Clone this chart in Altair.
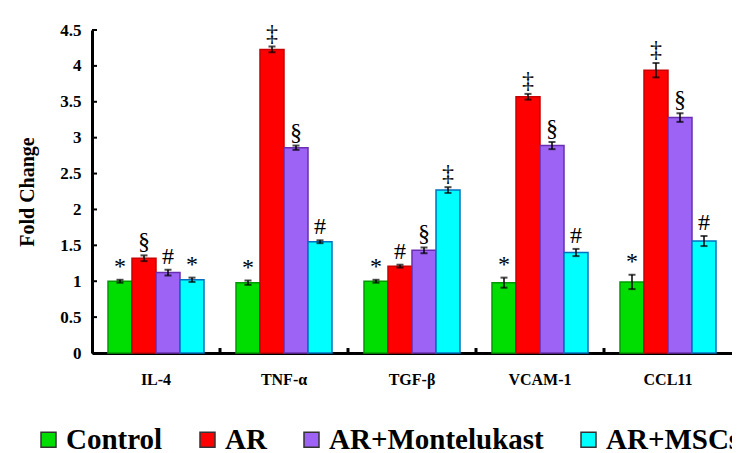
import altair as alt
import pandas as pd

categories = ["IL-4", "TNF-α", "TGF-β", "VCAM-1", "CCL11"]
groups = ["Control", "AR", "AR+Montelukast", "AR+MSCs"]
colors = ["#00dd00", "#ff0000", "#9c63f5", "#00ffff"]
strokes = ["#009a00", "#c80000", "#6a2fb0", "#0070c0"]

control = [1.00, 0.98, 1.00, 0.98, 0.99]
ar = [1.32, 4.23, 1.21, 3.57, 3.94]
montelukast = [1.12, 2.86, 1.43, 2.89, 3.28]
mscs = [1.02, 1.55, 2.27, 1.40, 1.56]

err_control = [0.02, 0.03, 0.02, 0.07, 0.10]
err_ar = [0.04, 0.04, 0.02, 0.04, 0.10]
err_mont = [0.04, 0.03, 0.04, 0.05, 0.06]
err_mscs = [0.03, 0.02, 0.04, 0.05, 0.07]

sym_control = ["*", "*", "*", "*", "*"]
sym_ar = ["§", "‡", "#", "‡", "‡"]
sym_mont = ["#", "§", "§", "§", "§"]
sym_mscs = ["*", "#", "‡", "#", "#"]

y_ticks = [0, 0.5, 1, 1.5, 2, 2.5, 3, 3.5, 4, 4.5]

rows = []
for g, sc, vals, errs, syms in zip(groups, strokes,
                                   [control, ar, montelukast, mscs],
                                   [err_control, err_ar, err_mont, err_mscs],
                                   [sym_control, sym_ar, sym_mont, sym_mscs]):
    for c, v, e, s in zip(categories, vals, errs, syms):
        rows.append({"cat": c, "group": g, "value": v, "edge": sc,
                     "lo": v - e, "hi": v + e, "sym": s})
df = pd.DataFrame(rows)

FONT = "Liberation Serif"
LEGEND_FONT = "Liberation Serif, Times New Roman, serif"

xscale = alt.Scale(domain=categories, paddingInner=0.25, paddingOuter=0.125)
xaxis = alt.Axis(title=None, labelAngle=0, labelPadding=18, ticks=False)
xenc = alt.X("cat:N", scale=xscale, sort=categories, axis=xaxis)
xoff = alt.XOffset("group:N", scale=alt.Scale(domain=groups, paddingInner=0, paddingOuter=0), sort=groups)
yscale = alt.Scale(domain=[0, 4.5], nice=False)
yaxis = alt.Axis(title="Fold Change", values=y_ticks, labelExpr="datum.value",
                 labelOverlap=False, labelPadding=11, ticks=False, titlePadding=22)

base = alt.Chart(df)

bars = base.mark_bar(strokeWidth=1.5).encode(
    x=xenc,
    xOffset=xoff,
    y=alt.Y("value:Q", scale=yscale, axis=yaxis),
    fill=alt.Fill("group:N", scale=alt.Scale(domain=groups, range=colors),
                  sort=groups,
                  legend=alt.Legend(title=None, orient="none", direction="horizontal",
                                    legendX=-58, legendY=395,
                                    symbolType="square", symbolSize=225,
                                    symbolStrokeWidth=1.5, symbolStrokeColor="#333333",
                                    labelFont=LEGEND_FONT, labelFontWeight="bold",
                                    labelFontSize=29, labelColor="black",
                                    labelOffset=3, columnPadding=30, labelLimit=400)),
    stroke=alt.Stroke("edge:N", scale=None),
)

err_rule = base.mark_rule(color="black", strokeWidth=1.5).encode(
    x=xenc,
    xOffset=xoff,
    y=alt.Y("lo:Q", scale=yscale, axis=yaxis),
    y2="hi:Q",
)
cap_lo = base.mark_tick(color="black", thickness=2, size=7).encode(
    x=xenc,
    xOffset=xoff,
    y=alt.Y("lo:Q", scale=yscale, axis=yaxis),
)
cap_hi = base.mark_tick(color="black", thickness=2, size=7).encode(
    x=xenc,
    xOffset=xoff,
    y=alt.Y("hi:Q", scale=yscale, axis=yaxis),
)
labels = base.mark_text(font=FONT, fontSize=24, baseline="bottom", dy=-1,
                        color="black").encode(
    x=xenc,
    xOffset=xoff,
    y=alt.Y("hi:Q", scale=yscale, axis=yaxis),
    text="sym:N",
)

tick_df = pd.DataFrame({"t": y_ticks})
yticks = alt.Chart(tick_df).mark_rule(color="black", strokeWidth=2).encode(
    x=alt.value(0), x2=alt.value(5),
    y=alt.Y("t:Q", scale=yscale, axis=yaxis),
)

bound_df = pd.DataFrame({"cat": categories[:-1]})
xticks = alt.Chart(bound_df).mark_rule(color="black", strokeWidth=3, xOffset=16).encode(
    x=alt.X("cat:N", scale=xscale, sort=categories, bandPosition=1, axis=xaxis),
    y=alt.value(323), y2=alt.value(318),
)

chart = alt.layer(bars, err_rule, cap_lo, cap_hi, labels, yticks, xticks).properties(
    width=640, height=323,
    background="white",
    autosize=alt.AutoSizeParams(type="none"),
    padding={"left": 84, "top": 22, "right": 0, "bottom": 100},
).configure(font=FONT).configure_view(stroke=None).configure_axis(
    grid=False, domainColor="black", domainWidth=3,
    labelFont=FONT, labelFontWeight="bold", labelColor="black",
    titleFont=FONT, titleFontWeight="bold", titleColor="black", titleFontSize=20,
).configure_axisX(labelFontSize=16).configure_axisY(labelFontSize=17).configure_legend(
    labelFont=LEGEND_FONT, labelFontWeight="bold", labelFontSize=29, labelColor="black",
)

chart.save("out.html", embed_options={"renderer": "svg", "actions": False})
